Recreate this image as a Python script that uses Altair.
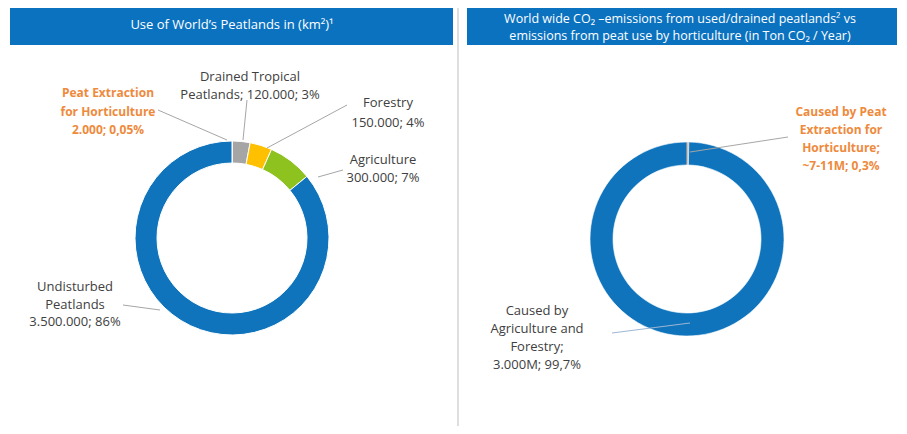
import altair as alt
import pandas as pd

# ---------------- data ----------------
land_cats = ["Peat Extraction for Horticulture", "Drained Tropical Peatlands",
             "Forestry", "Agriculture", "Undisturbed Peatlands"]
land_km2 = [2000, 120000, 150000, 300000, 3500000]
land_labels = ["Peat Extraction\nfor Horticulture\n2.000; 0,05%",
               "Drained Tropical\nPeatlands; 120.000; 3%",
               "Forestry\n150.000; 4%",
               "Agriculture\n300.000; 7%",
               "Undisturbed\nPeatlands\n3.500.000; 86%"]

co2_cats = ["Caused by Peat Extraction for Horticulture", "Caused by Agriculture and Forestry"]
co2_mton = [9, 3000]
co2_labels = ["Caused by Peat\nExtraction for\nHorticulture;\n~7-11M; 0,3%",
              "Caused by\nAgriculture and\nForestry;\n3.000M; 99,7%"]

title_left = "Use of World\u2019s Peatlands in (km\u00b2)\u00b9"
title_right = ["World wide CO\u2082 \u2013emissions from used/drained peatlands\u00b2 vs",
               "emissions from peat use by horticulture (in Ton CO\u2082 / Year)"]

# ---------------- style ----------------
FONT = "Open Sans"
BLUE = "#0F74BC"
HEAD = "#0B72BF"
ORANGE = "#EE8A3C"
DARK = "#404040"
LEAD = "#A6A6A6"
land_colors = ["#ED7D31", "#A5A5A5", "#FFC000", "#8DC21F", BLUE]
co2_colors = ["#D9773A", BLUE]

W, H = 891, 418
blank = alt.Data(values=[{}])


def rect(x, x2, y, y2, color):
    return alt.Chart(blank).mark_rect(color=color).encode(
        x=alt.value(x), x2=alt.value(x2), y=alt.value(y), y2=alt.value(y2))


def rule(x, y, x2, y2, color=LEAD, w=1):
    return alt.Chart(blank).mark_rule(color=color, strokeWidth=w).encode(
        x=alt.value(x), x2=alt.value(x2), y=alt.value(y), y2=alt.value(y2))


def label(txt, x, y, color=DARK, bold=False, lh=18, size=13):
    # y is the centre of the first line
    return alt.Chart(blank).mark_text(
        align="center", baseline="middle", lineBreak="\n", lineHeight=lh,
        font=FONT, fontSize=size, fontWeight="bold" if bold else "normal", color=color
    ).encode(x=alt.value(x), y=alt.value(y), text=alt.value(txt))


land_df = pd.DataFrame({"category": land_cats, "value": land_km2, "idx": list(range(len(land_cats)))})
co2_df = pd.DataFrame({"category": co2_cats, "value": co2_mton, "idx": list(range(len(co2_cats)))})

land_arc = alt.Chart(land_df).mark_arc(
    innerRadius=75, outerRadius=97, stroke="white", strokeWidth=1, x=224, y=230
).encode(
    theta=alt.Theta("value:Q", stack=True),
    order=alt.Order("idx:Q"),
    color=alt.Color("category:N", scale=alt.Scale(domain=land_cats, range=land_colors), legend=None),
)

co2_arc = alt.Chart(co2_df).mark_arc(
    innerRadius=74, outerRadius=97, stroke="white", strokeWidth=0.6, x=679, y=231
).encode(
    theta=alt.Theta("value:Q", stack=True),
    order=alt.Order("idx:Q"),
    color=alt.Color("category:N", scale=alt.Scale(domain=co2_cats, range=co2_colors), legend=None),
)

layers = [
    rect(2, 445, 0, 37, HEAD),
    rect(459, 889, 0, 37, HEAD),
    rule(450, 0, 450, 418, "#C8C8C8", 1.2),
    label(title_left, 224, 17, "white", size=13),
    label("\n".join(title_right), 672, 10.5, "white", size=12.5, lh=17),
    land_arc,
    co2_arc,
    # leader lines, left
    rule(150, 102, 219, 132),
    rule(239, 92, 235, 132),
    rule(339, 97, 259, 140),
    rule(335, 162, 310, 169),
    rule(115, 297, 152, 302),
    # leader lines, right
    rule(780, 129, 682, 144),
    rule(604, 325, 682, 315, "#9DB6D3"),
    # labels, left
    label(land_labels[0], 100, 85, ORANGE, bold=True, lh=18.5, size=12),
    label(land_labels[1], 242, 69, DARK, lh=18),
    label(land_labels[2], 380, 95, DARK, lh=20),
    label(land_labels[3], 375, 152, DARK, lh=18),
    label(land_labels[4], 67, 279, DARK, lh=17.5),
    # labels, right
    label(co2_labels[0], 833, 104, ORANGE, bold=True, lh=18, size=12),
    label(co2_labels[1], 529, 303, DARK, lh=18),
]

chart = alt.layer(*layers).resolve_scale(
    theta="independent", color="independent"
).properties(
    width=W, height=H, padding=0, autosize="none"
).configure_view(stroke=None)

chart.save("out.html", embed_options={"renderer": "svg", "actions": False})
